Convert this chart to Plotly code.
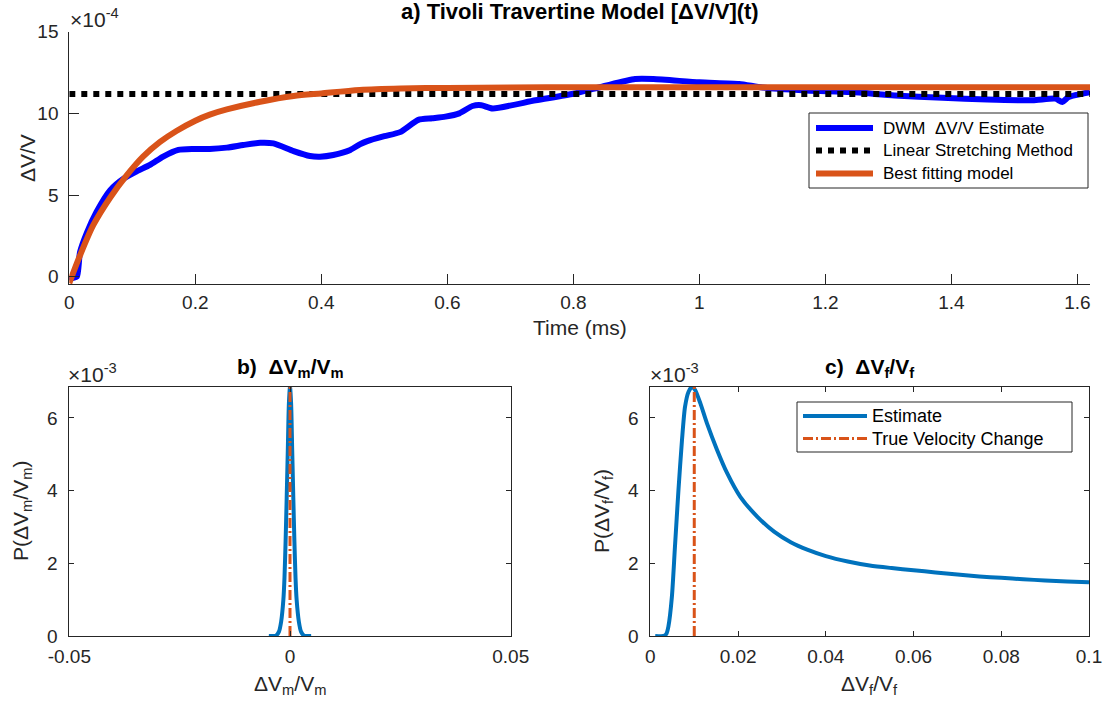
import plotly.graph_objects as go

W, H = 1108, 704

# ---------------- data ----------------
# a) dV/V versus time (values in units of 1e-4, time in ms)
t_dwm = [0.0, 0.004, 0.012, 0.017, 0.028, 0.043, 0.065, 0.086, 0.107, 0.128,
         0.149, 0.173, 0.197, 0.223, 0.25, 0.276, 0.303, 0.324, 0.356, 0.382,
         0.398, 0.419, 0.446, 0.461, 0.473, 0.5, 0.525, 0.554, 0.576, 0.597,
         0.619, 0.64, 0.654, 0.672, 0.74, 0.8, 0.848, 0.898, 0.927, 1.0,
         1.063, 1.1, 1.17, 1.24, 1.31, 1.386, 1.457, 1.529, 1.565, 1.576,
         1.586, 1.62]
dvv_dwm = [-0.2, -0.1, 0.0, 1.5, 2.7, 3.95, 5.3, 6.0, 6.45, 6.84,
           7.35, 7.76, 7.82, 7.82, 7.9, 8.06, 8.2, 8.16, 7.69, 7.39,
           7.35, 7.45, 7.76, 8.1, 8.3, 8.6, 8.85, 9.6, 9.7, 9.8,
           10.0, 10.45, 10.5, 10.3, 10.8, 11.2, 11.66, 12.1, 12.1, 11.9,
           11.8, 11.58, 11.4, 11.3, 11.1, 10.95, 10.85, 10.8, 10.9, 10.7,
           11.0, 11.3]

t_ls = [0.0, 1.62]
dvv_ls = [11.18, 11.18]

t_fit = [0.0, 0.017, 0.038, 0.065, 0.091, 0.117, 0.144, 0.17, 0.2, 0.223,
         0.25, 0.303, 0.356, 0.4, 0.461, 0.526, 0.6, 0.7, 0.8, 1.0,
         1.2, 1.4, 1.62]
dvv_fit = [-0.4, 1.3, 3.15, 4.85, 6.2, 7.35, 8.25, 8.92, 9.55, 9.92,
           10.24, 10.71, 11.06, 11.22, 11.43, 11.52, 11.56, 11.58, 11.6, 11.6,
           11.6, 11.6, 11.6]

# b) distribution of dVm/Vm (probabilities in units of 1e-3)
dvm = [-0.0048, -0.0035, -0.003, -0.0025, -0.002, -0.0015, -0.00125, -0.001,
       -0.00075, -0.0005, -0.00025, 0.0, 0.00025, 0.0005, 0.00075, 0.001,
       0.00125, 0.0015, 0.002, 0.0025, 0.003, 0.0035, 0.0048]
p_dvm = [0.0, 0.0, 0.03, 0.12, 0.4, 1.0, 1.6, 2.6,
         3.8, 5.1, 6.4, 6.86, 6.4, 5.1, 3.8, 2.6,
         1.6, 1.0, 0.4, 0.12, 0.03, 0.0, 0.0]
true_dvm = 0.0

# c) distribution of dVf/Vf (probabilities in units of 1e-3)
dvf = [0.0011, 0.003, 0.0036, 0.0041, 0.0049, 0.0056, 0.0064, 0.0072, 0.0079,
       0.0087, 0.0095, 0.0102, 0.0114, 0.0129, 0.0152, 0.0175, 0.0205, 0.0244,
       0.0282, 0.032, 0.0359, 0.04, 0.045, 0.05, 0.055, 0.06, 0.065, 0.07,
       0.075, 0.08, 0.085, 0.09, 0.095, 0.1]
p_dvf = [0.0, 0.0, 0.05, 0.26, 1.08, 2.46, 4.02, 5.39, 6.31,
         6.72, 6.86, 6.77, 6.4, 5.85, 5.12, 4.48, 3.83, 3.28,
         2.87, 2.58, 2.37, 2.2, 2.05, 1.94, 1.87, 1.81, 1.75, 1.69,
         1.64, 1.6, 1.56, 1.53, 1.5, 1.48]
true_dvf = 0.01
p_max = 6.86

# ---------------- style ----------------
FONT = "Liberation Sans, Arial, Helvetica, sans-serif"
AX = "#262626"
BLUE = "#0000ff"
MBLUE = "#0072bd"
ORANGE = "#d95319"
TICK = 19
DASHDOT = "10px,3px,2px,3px"


def px_x(p):
    return p / W


def px_y(p):
    return 1 - p / H


fig = go.Figure()

# panel a
fig.add_trace(go.Scatter(x=t_dwm, y=dvv_dwm, mode="lines", name="DWM  ΔV/V Estimate",
                         line=dict(color=BLUE, width=6, shape="spline", smoothing=0.6),
                         xaxis="x", yaxis="y"))
fig.add_trace(go.Scatter(x=t_ls, y=dvv_ls, mode="lines", name="Linear Stretching Method",
                         line=dict(color="black", width=6, dash="dot"),
                         xaxis="x", yaxis="y"))
fig.add_trace(go.Scatter(x=t_fit, y=dvv_fit, mode="lines", name="Best fitting model",
                         line=dict(color=ORANGE, width=6, shape="spline", smoothing=0.8),
                         xaxis="x", yaxis="y"))

# panel b
fig.add_trace(go.Scatter(x=dvm, y=p_dvm, mode="lines",
                         line=dict(color=MBLUE, width=4, shape="spline", smoothing=0.7),
                         xaxis="x2", yaxis="y2"))
fig.add_trace(go.Scatter(x=[true_dvm, true_dvm], y=[0, p_max], mode="lines",
                         line=dict(color=ORANGE, width=3, dash=DASHDOT),
                         xaxis="x2", yaxis="y2"))

# panel c
fig.add_trace(go.Scatter(x=dvf, y=p_dvf, mode="lines", name="Estimate",
                         line=dict(color=MBLUE, width=4, shape="spline", smoothing=0.7),
                         xaxis="x3", yaxis="y3"))
fig.add_trace(go.Scatter(x=[true_dvf, true_dvf], y=[0, p_max], mode="lines",
                         name="True Velocity Change",
                         line=dict(color=ORANGE, width=3, dash=DASHDOT),
                         xaxis="x3", yaxis="y3"))

axis_common = dict(showline=True, linecolor=AX, linewidth=1, ticks="inside",
                   tickcolor=AX, tickwidth=1, showgrid=False, zeroline=False,
                   automargin=False,
                   tickfont=dict(family=FONT, size=TICK, color=AX))

fig.update_layout(
    width=W, height=H,
    margin=dict(l=0, r=0, t=0, b=0),
    paper_bgcolor="white", plot_bgcolor="white",
    showlegend=False,
    font=dict(family=FONT, color=AX),
    xaxis=dict(domain=[px_x(69.3), px_x(1090)], range=[0, 1.62], anchor="y",
               tickvals=[0, 0.2, 0.4, 0.6, 0.8, 1, 1.2, 1.4, 1.6],
               ticktext=["0", "0.2", "0.4", "0.6", "0.8", "1", "1.2", "1.4", "1.6"],
               ticklen=10, ticklabelstandoff=1, **axis_common),
    yaxis=dict(domain=[px_y(284), px_y(31.7)], range=[-0.45, 15], anchor="x",
               tickvals=[0, 5, 10, 15], ticklen=10, ticklabelstandoff=6, **axis_common),
    xaxis2=dict(domain=[px_x(69.3), px_x(510.7)], range=[-0.05, 0.05], anchor="y2",
                tickvals=[-0.05, 0, 0.05], ticktext=["-0.05", "0", "0.05"],
                ticklen=5, mirror="ticks", ticklabelstandoff=3, **axis_common),
    yaxis2=dict(domain=[px_y(636), px_y(386.7)], range=[0, p_max], anchor="x2",
                tickvals=[0, 2, 4, 6], ticklen=5, mirror="ticks", ticklabelstandoff=7,
                **axis_common),
    xaxis3=dict(domain=[px_x(650.4), px_x(1089)], range=[0, 0.1], anchor="y3",
                tickvals=[0, 0.02, 0.04, 0.06, 0.08, 0.1],
                ticktext=["0", "0.02", "0.04", "0.06", "0.08", "0.1"],
                ticklen=5, mirror="ticks", ticklabelstandoff=3, **axis_common),
    yaxis3=dict(domain=[px_y(636), px_y(386.7)], range=[0, p_max], anchor="x3",
                tickvals=[0, 2, 4, 6], ticklen=5, mirror="ticks", ticklabelstandoff=7,
                **axis_common),
)

ann = []
shapes = []


def label(x, y, text, size, angle=0, bold=False, xanchor="center", yanchor="middle",
          color=AX):
    if bold:
        text = "<b>" + text + "</b>"
    ann.append(dict(x=px_x(x), y=px_y(y), xref="paper", yref="paper", text=text,
                    showarrow=False, textangle=angle, xanchor=xanchor, yanchor=yanchor,
                    font=dict(family=FONT, size=size, color=color)))


def legend_box(x0, y0, x1, y1, rows, size, sample_x0, sample_x1, text_x):
    # frame
    shapes.append(dict(type="rect", xref="paper", yref="paper", layer="above",
                       x0=px_x(x0), x1=px_x(x1), y0=px_y(y1), y1=px_y(y0),
                       line=dict(color=AX, width=1), fillcolor="white"))
    for yc, trace, in_text in rows:
        ln = trace.line
        style = dict(color=ln.color, width=ln.width)
        if ln.dash is not None:
            style["dash"] = ln.dash
        shapes.append(dict(type="line", xref="paper", yref="paper", layer="above",
                           x0=px_x(sample_x0), x1=px_x(sample_x1),
                           y0=px_y(yc), y1=px_y(yc), line=style))
        label(text_x, yc, in_text, size, xanchor="left", color="black")


# legends, built from the traces' own names and line styles
tr = fig.data
legend_box(809, 113, 1088, 188,
           [(128, tr[0], tr[0].name),
            (150.5, tr[1], tr[1].name),
            (173.5, tr[2], tr[2].name)],
           17, 816, 873, 881)
legend_box(797, 402, 1072, 452,
           [(416, tr[5], tr[5].name),
            (438.5, tr[6], tr[6].name)],
           18, 803, 867, 870)

# titles
label(579.5, 11, "a) Tivoli Travertine Model [ΔV/V](t)", 22, bold=True, color="black")
label(290, 368, "b)  ΔV<sub>m</sub>/V<sub>m</sub>", 21, bold=True, color="black")
label(870, 368, "c)  ΔV<sub>f</sub>/V<sub>f</sub>", 21, bold=True, color="black")

# axis labels
label(579.5, 327, "Time (ms)", 21)
label(28, 158, "ΔV/V", 21, angle=-90)
label(290, 685, "ΔV<sub>m</sub>/V<sub>m</sub>", 21)
label(22, 511, "P(ΔV<sub>m</sub>/V<sub>m</sub>)", 21, angle=-90)
label(870, 685, "ΔV<sub>f</sub>/V<sub>f</sub>", 21)
label(603, 511, "P(ΔV<sub>f</sub>/V<sub>f</sub>)", 21, angle=-90)

# exponent multipliers
label(68, 33, "×10<sup>-4</sup>", 21, xanchor="left", yanchor="bottom")
label(66, 388, "×10<sup>-3</sup>", 21, xanchor="left", yanchor="bottom")
label(648, 388, "×10<sup>-3</sup>", 21, xanchor="left", yanchor="bottom")

fig.update_layout(annotations=ann, shapes=shapes)

fig.write_html("out.html")
